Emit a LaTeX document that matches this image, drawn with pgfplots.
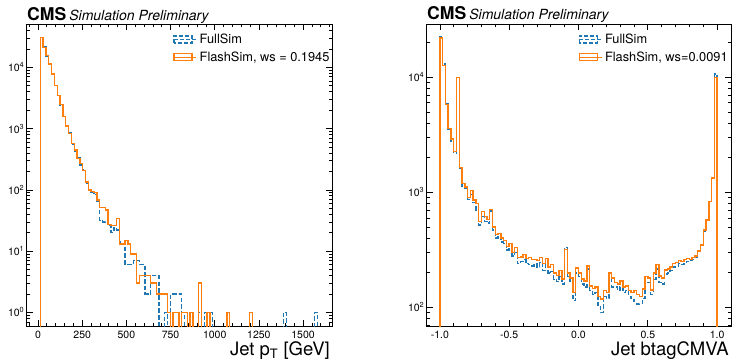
\documentclass[border=0pt]{standalone}
\usepackage{fontspec}
\setmainfont{TeX Gyre Heros}
\usepackage{pgfplots}
\usepackage{pgfplotstable}
\pgfplotsset{compat=1.18}
\definecolor{cblue}{HTML}{1F77B4}
\definecolor{corange}{HTML}{FF7F0E}

% Jet pT histogram: left bin edge, FullSim, FlashSim (0.001 = empty bin)
\pgfplotstableread{
x full flash
13 0.001 0.001
13 30500 30900
29 21500 21100
45 15000 15500
61 11600 11400
77 7600 7800
93 5100 5000
109 3500 3470
125 2400 2460
141 1620 1590
157 1080 1100
173 850 830
189 560 570
205 430 445
221 330 325
237 255 268
253 215 208
269 130 135
285 102 99
301 90 95
317 85 90
333 64 68
349 32 52
365 30 52
381 31 47
397 26 27
413 20 26
429 24 26
445 22 34
461 14 13
477 13 13
493 6 15
509 6 13
525 6 9
541 7 9
557 7 3
573 6 4
589 6 4
605 2 4
621 2 4
637 4 3
653 4 3
669 4 2
685 0.001 2
701 0.001 2
717 1 2
733 0.001 1
749 2 0.001
765 2 1
781 2 1
797 2 0.001
813 1 1
829 0.001 1
845 0.001 0.001
861 1 1
877 0.001 0.001
893 0.001 0.001
909 1 3
925 0.001 0.001
941 1 0.001
957 0.001 1
973 1 0.001
989 0.001 0.001
1005 0.001 0.001
1021 0.001 0.001
1037 0.001 0.001
1053 0.001 0.001
1069 0.001 1
1085 0.001 0.001
1101 0.001 0.001
1117 0.001 0.001
1133 0.001 0.001
1149 0.001 0.001
1165 0.001 0.001
1181 0.001 0.001
1197 0.001 1
1213 0.001 0.001
1229 0.001 0.001
1245 0.001 0.001
1261 0.001 0.001
1277 0.001 0.001
1293 0.001 0.001
1309 0.001 0.001
1325 0.001 0.001
1341 0.001 0.001
1357 0.001 0.001
1373 0.001 0.001
1389 1 0.001
1405 0.001 0.001
1421 0.001 0.001
1437 0.001 0.001
1453 0.001 0.001
1469 0.001 0.001
1485 0.001 0.001
1501 0.001 0.001
1517 0.001 0.001
1533 0.001 0.001
1549 0.001 0.001
1565 1 0.001
1581 0.001 0.001
1597 0.001 0.001
1613 0.001 0.001
}\pttab

% Jet btagCMVA histogram: left bin edge, FullSim, FlashSim
\pgfplotstableread{
x full flash
-1.00 0.001 0.001
-1.00 22500 22000
-0.98 13000 12700
-0.96 5900 5810
-0.94 3500 3600
-0.92 2800 2900
-0.90 2200 2250
-0.88 10000 10000
-0.86 1620 1650
-0.84 1120 1190
-0.82 1080 1110
-0.80 870 900
-0.78 960 1040
-0.76 820 860
-0.74 700 800
-0.72 520 560
-0.70 620 680
-0.68 560 620
-0.66 540 580
-0.64 690 706
-0.62 470 500
-0.60 400 430
-0.58 415 440
-0.56 370 400
-0.54 360 380
-0.52 315 340
-0.50 330 360
-0.48 280 300
-0.46 300 330
-0.44 240 270
-0.42 250 275
-0.40 260 290
-0.38 240 265
-0.36 235 270
-0.34 230 260
-0.32 240 262
-0.30 225 255
-0.28 245 270
-0.26 210 240
-0.24 240 265
-0.22 200 225
-0.20 205 235
-0.18 175 200
-0.16 168 190
-0.14 185 210
-0.12 160 176
-0.10 330 320
-0.08 185 200
-0.06 165 180
-0.04 115 135
-0.02 200 220
0.00 185 200
0.02 160 176
0.04 150 170
0.06 215 229
0.08 140 154
0.10 130 146
0.12 135 150
0.14 105 125
0.16 90 118
0.18 125 140
0.20 120 135
0.22 200 200
0.24 150 180
0.26 150 165
0.28 140 160
0.30 150 170
0.32 135 150
0.34 140 154
0.36 125 140
0.38 120 135
0.40 112 140
0.42 107 130
0.44 108 125
0.46 120 145
0.48 160 186
0.50 165 180
0.52 130 142
0.54 175 200
0.56 215 235
0.58 165 188
0.60 160 180
0.62 195 211
0.64 200 215
0.66 210 225
0.68 225 240
0.70 230 245
0.72 240 255
0.74 235 250
0.76 245 262
0.78 250 265
0.80 255 260
0.82 262 270
0.84 275 280
0.86 305 310
0.88 345 350
0.90 460 470
0.92 570 575
0.94 830 830
0.96 1350 1330
0.98 10700 10000
1.00 0.001 0.001
}\cmvatab

\pgfplotsset{
  cmsaxis/.style={
    scale only axis,
    axis line style={line width=0.8pt},
    tick align=inside, xtick pos=both, ytick pos=both,
    major tick length=6.5pt, minor tick length=3.5pt,
    every tick/.style={black, line width=0.7pt},
    tick label style={font=\fontsize{10.5}{12}\selectfont},
    yticklabel style={inner sep=1.5pt},
    xticklabel style={inner sep=4.5pt},
    clip=true,
    legend image code/.code={\draw[##1] (0pt,-3.5pt) rectangle (18pt,3.5pt); \path (0pt,0pt) -- (22.5pt,0pt);},
    legend cell align=left,
    legend style={draw=none, fill=none, font=\fontsize{12.8}{14}\selectfont,
      anchor=north west, inner sep=0pt, nodes={inner sep=2.6pt}, row sep=1.3pt},
    every axis title/.style={at={(rel axis cs:0,1)}, anchor=base west,
      inner sep=0pt, yshift=4pt, xshift=1pt},
    every axis x label/.style={at={(rel axis cs:1,0)}, anchor=base east,
      inner sep=0pt, yshift=-29pt, xshift=-2pt, font=\fontsize{18.5}{20}\selectfont},
  },
  fullstyle/.style={cblue, line width=1.4pt, dash pattern=on 4.5pt off 2.2pt, const plot mark left, forget plot},
  flashstyle/.style={corange, line width=1.4pt, const plot mark left, forget plot},
}

\newcommand{\cmstitle}{{\fontsize{17.6}{20}\selectfont\bfseries CMS}\hspace{3pt}{\fontsize{14}{16}\selectfont\itshape Simulation Preliminary}}

\begin{document}
\begin{tikzpicture}
\useasboundingbox (0,0) rectangle (733pt,360pt);
\begin{axis}[ymode=log, cmsaxis, anchor=south west,
  at={(26pt,34pt)}, width=306pt, height=302pt,
  xmin=-68, xmax=1664, ymin=0.6, ymax=51000,
  xtick={0,250,500,750,1000,1250,1500},
  xticklabels={0,250,500,750,1000,1250,1500},
  minor xtick={-50,50,100,150,200,300,350,400,450,550,600,650,700,800,850,900,950,1050,1100,1150,1200,1300,1350,1400,1450,1550,1600,1650},
  ytick={1,10,100,1000,10000},
  yticklabels={10\textsuperscript{0},10\textsuperscript{1},10\textsuperscript{2},10\textsuperscript{3},10\textsuperscript{4}},
  minor ytick={0.7,0.8,0.9,2,3,4,5,6,7,8,9,20,30,40,50,60,70,80,90,200,300,400,500,600,700,800,900,2000,3000,4000,5000,6000,7000,8000,9000,20000,30000,40000,50000},
  title={\cmstitle},
  xlabel={Jet p\textsubscript{T} [GeV]},
  legend style={at={(rel axis cs:0.481,0.976)}},
]
\addplot[fullstyle] table[x=x, y=full] {\pttab};
\addplot[flashstyle] table[x=x, y=flash] {\pttab};
\addlegendimage{cblue, line width=1.2pt, dash pattern=on 4pt off 2pt}
\addlegendentry{FullSim}
\addlegendimage{corange, line width=1.2pt}
\addlegendentry{FlashSim, ws = 0.1945}
\end{axis}

\begin{axis}[ymode=log, cmsaxis, anchor=south west,
  at={(426pt,34pt)}, width=305pt, height=302pt,
  xmin=-1.1, xmax=1.1, ymin=69, ymax=29000,
  xtick={-1,-0.5,0,0.5,1},
  xticklabels={-1.0,-0.5,0.0,0.5,1.0},
  minor xtick={-0.9,-0.8,-0.7,-0.6,-0.4,-0.3,-0.2,-0.1,0.1,0.2,0.3,0.4,0.6,0.7,0.8,0.9},
  ytick={100,1000,10000},
  yticklabels={10\textsuperscript{2},10\textsuperscript{3},10\textsuperscript{4}},
  minor ytick={70,80,90,200,300,400,500,600,700,800,900,2000,3000,4000,5000,6000,7000,8000,9000,20000},
  title={\cmstitle},
  xlabel={Jet btagCMVA},
  legend style={at={(rel axis cs:0.5,0.976)}},
]
\addplot[fullstyle] table[x=x, y=full] {\cmvatab};
\addplot[flashstyle] table[x=x, y=flash] {\cmvatab};
\addlegendimage{cblue, line width=1.2pt, dash pattern=on 4pt off 2pt}
\addlegendentry{FullSim}
\addlegendimage{corange, line width=1.2pt}
\addlegendentry{FlashSim, ws=0.0091}
\end{axis}
\end{tikzpicture}
\end{document}
